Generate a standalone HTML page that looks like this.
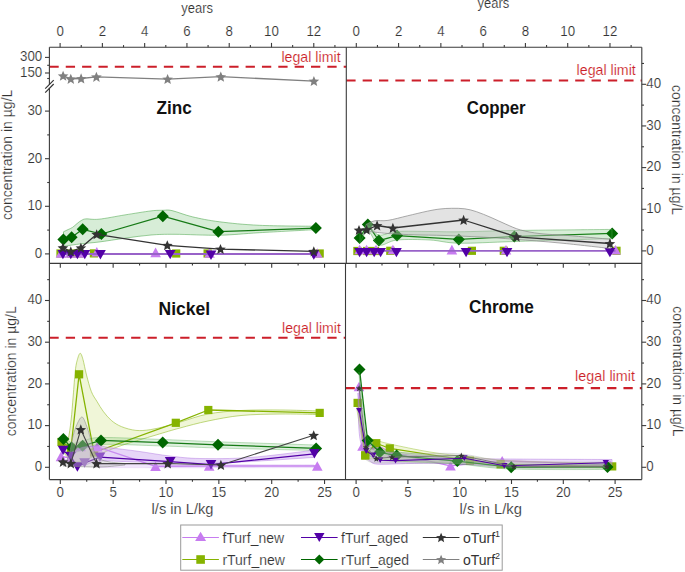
<!DOCTYPE html>
<html><head><meta charset="utf-8"><style>
html,body{margin:0;padding:0;background:#fff;width:685px;height:572px;overflow:hidden;font-family:"Liberation Sans", sans-serif;}
</style></head><body>
<svg width="685" height="572" viewBox="0 0 685 572" style="position:absolute;left:0;top:0;font-family:'Liberation Sans', sans-serif">
<rect width="685" height="572" fill="#ffffff"/>
<rect x="56.40" y="249.40" width="8.20" height="8.20" fill="#86b300" opacity="1"/>
<rect x="66.90" y="249.40" width="8.20" height="8.20" fill="#86b300" opacity="1"/>
<rect x="74.90" y="249.40" width="8.20" height="8.20" fill="#86b300" opacity="1"/>
<rect x="89.80" y="249.30" width="8.20" height="8.20" fill="#86b300" opacity="1"/>
<rect x="172.10" y="249.40" width="8.20" height="8.20" fill="#86b300" opacity="1"/>
<rect x="203.50" y="249.40" width="8.20" height="8.20" fill="#86b300" opacity="1"/>
<rect x="315.60" y="249.40" width="8.20" height="8.20" fill="#86b300" opacity="1"/>
<path d="M63.50,231.80C64.25,231.43 66.50,230.33 68.00,229.60C69.50,228.87 71.00,228.40 72.50,227.40C74.00,226.40 75.53,224.75 77.00,223.60C78.47,222.45 79.80,221.28 81.30,220.50C82.80,219.72 83.05,219.12 86.00,218.90C88.95,218.68 92.50,219.87 99.00,219.20C105.50,218.53 116.33,216.28 125.00,214.90C133.67,213.52 144.67,211.67 151.00,210.90C157.33,210.13 159.50,210.35 163.00,210.30C166.50,210.25 167.12,209.52 172.00,210.60C176.88,211.68 184.37,214.93 192.30,216.80C200.23,218.67 208.43,220.38 219.60,221.80C230.77,223.22 243.23,224.55 259.30,225.30C275.37,226.05 306.55,226.13 316.00,226.30L316.00,229.60C306.55,230.12 275.37,231.77 259.30,232.70C243.23,233.63 233.65,234.93 219.60,235.20C205.55,235.47 186.43,234.33 175.00,234.30C163.57,234.27 159.33,234.35 151.00,235.00C142.67,235.65 133.67,237.03 125.00,238.20C116.33,239.37 106.28,241.07 99.00,242.00C91.72,242.93 87.22,243.08 81.30,243.80C75.38,244.52 66.47,245.88 63.50,246.30Z" fill="#1f9a1f" fill-opacity="0.18" stroke="#4aa54a" stroke-opacity="0.6" stroke-width="0.9"/>
<path d="M63.40,239.40L71.60,237.30L82.70,229.30L101.40,234.00L162.80,216.20L218.30,231.70L315.90,228.10" fill="none" stroke="#167a16" stroke-width="1.2" opacity="1.0" stroke-linejoin="round"/>
<path d="M63.40,233.40L69.40,239.40L63.40,245.40L57.40,239.40Z" fill="#006600" opacity="1"/>
<path d="M71.60,231.30L77.60,237.30L71.60,243.30L65.60,237.30Z" fill="#006600" opacity="1"/>
<path d="M82.70,223.30L88.70,229.30L82.70,235.30L76.70,229.30Z" fill="#006600" opacity="1"/>
<path d="M101.40,228.00L107.40,234.00L101.40,240.00L95.40,234.00Z" fill="#006600" opacity="1"/>
<path d="M162.80,210.20L168.80,216.20L162.80,222.20L156.80,216.20Z" fill="#006600" opacity="1"/>
<path d="M218.30,225.70L224.30,231.70L218.30,237.70L212.30,231.70Z" fill="#006600" opacity="1"/>
<path d="M315.90,222.10L321.90,228.10L315.90,234.10L309.90,228.10Z" fill="#006600" opacity="1"/>
<path d="M61.00,248.20L66.30,257.80L55.70,257.80Z" fill="#c77cf0" opacity="1"/>
<path d="M70.30,248.20L75.60,257.80L65.00,257.80Z" fill="#c77cf0" opacity="1"/>
<path d="M79.70,248.20L85.00,257.80L74.40,257.80Z" fill="#c77cf0" opacity="1"/>
<path d="M96.80,247.00L102.10,256.60L91.50,256.60Z" fill="#c77cf0" opacity="1"/>
<path d="M155.60,247.60L160.90,257.20L150.30,257.20Z" fill="#c77cf0" opacity="1"/>
<path d="M209.50,248.20L214.80,257.80L204.20,257.80Z" fill="#c77cf0" opacity="1"/>
<path d="M317.30,248.20L322.60,257.80L312.00,257.80Z" fill="#c77cf0" opacity="1"/>
<path d="M61.00,254.00L317.30,254.00" fill="none" stroke="#9862c8" stroke-width="1.9" opacity="1.0" stroke-linejoin="round"/>
<path d="M57.50,249.90L68.30,249.90L62.90,259.30Z" fill="#5200a6" opacity="1"/>
<path d="M65.40,249.90L76.20,249.90L70.80,259.30Z" fill="#5200a6" opacity="1"/>
<path d="M72.00,249.90L82.80,249.90L77.40,259.30Z" fill="#5200a6" opacity="1"/>
<path d="M79.40,249.90L90.20,249.90L84.80,259.30Z" fill="#5200a6" opacity="1"/>
<path d="M95.00,250.10L105.80,250.10L100.40,259.50Z" fill="#5200a6" opacity="1"/>
<path d="M164.80,249.90L175.60,249.90L170.20,259.30Z" fill="#5200a6" opacity="1"/>
<path d="M205.60,250.50L216.40,250.50L211.00,259.90Z" fill="#5200a6" opacity="1"/>
<path d="M308.40,250.30L319.20,250.30L313.80,259.70Z" fill="#5200a6" opacity="1"/>
<path d="M62.90,247.70L70.80,251.50L80.90,247.80L96.70,234.30L167.30,245.30L220.50,249.10L313.80,251.40" fill="none" stroke="#333333" stroke-width="1.3" opacity="1.0" stroke-linejoin="round"/>
<path d="M62.90,242.55L64.38,246.11L68.23,246.42L65.30,248.93L66.19,252.68L62.90,250.67L59.61,252.68L60.50,248.93L57.57,246.42L61.42,246.11Z" fill="#333333" opacity="1"/>
<path d="M70.80,246.35L72.28,249.91L76.13,250.22L73.20,252.73L74.09,256.48L70.80,254.47L67.51,256.48L68.40,252.73L65.47,250.22L69.32,249.91Z" fill="#333333" opacity="1"/>
<path d="M80.90,242.65L82.38,246.21L86.23,246.52L83.30,249.03L84.19,252.78L80.90,250.77L77.61,252.78L78.50,249.03L75.57,246.52L79.42,246.21Z" fill="#333333" opacity="1"/>
<path d="M96.70,229.15L98.18,232.71L102.03,233.02L99.10,235.53L99.99,239.28L96.70,237.27L93.41,239.28L94.30,235.53L91.37,233.02L95.22,232.71Z" fill="#333333" opacity="1"/>
<path d="M167.30,240.15L168.78,243.71L172.63,244.02L169.70,246.53L170.59,250.28L167.30,248.27L164.01,250.28L164.90,246.53L161.97,244.02L165.82,243.71Z" fill="#333333" opacity="1"/>
<path d="M220.50,243.95L221.98,247.51L225.83,247.82L222.90,250.33L223.79,254.08L220.50,252.07L217.21,254.08L218.10,250.33L215.17,247.82L219.02,247.51Z" fill="#333333" opacity="1"/>
<path d="M313.80,246.25L315.28,249.81L319.13,250.12L316.20,252.63L317.09,256.38L313.80,254.37L310.51,256.38L311.40,252.63L308.47,250.12L312.32,249.81Z" fill="#333333" opacity="1"/>
<path d="M63.10,75.80L70.80,78.90L81.10,78.50L96.40,76.90L167.60,79.10L220.80,76.70L313.90,81.10" fill="none" stroke="#808080" stroke-width="1.3" opacity="1.0" stroke-linejoin="round"/>
<path d="M63.10,70.65L64.58,74.21L68.43,74.52L65.50,77.03L66.39,80.78L63.10,78.77L59.81,80.78L60.70,77.03L57.77,74.52L61.62,74.21Z" fill="#808080" opacity="1"/>
<path d="M70.80,73.75L72.28,77.31L76.13,77.62L73.20,80.13L74.09,83.88L70.80,81.87L67.51,83.88L68.40,80.13L65.47,77.62L69.32,77.31Z" fill="#808080" opacity="1"/>
<path d="M81.10,73.35L82.58,76.91L86.43,77.22L83.50,79.73L84.39,83.48L81.10,81.47L77.81,83.48L78.70,79.73L75.77,77.22L79.62,76.91Z" fill="#808080" opacity="1"/>
<path d="M96.40,71.75L97.88,75.31L101.73,75.62L98.80,78.13L99.69,81.88L96.40,79.87L93.11,81.88L94.00,78.13L91.07,75.62L94.92,75.31Z" fill="#808080" opacity="1"/>
<path d="M167.60,73.95L169.08,77.51L172.93,77.82L170.00,80.33L170.89,84.08L167.60,82.07L164.31,84.08L165.20,80.33L162.27,77.82L166.12,77.51Z" fill="#808080" opacity="1"/>
<path d="M220.80,71.55L222.28,75.11L226.13,75.42L223.20,77.93L224.09,81.68L220.80,79.67L217.51,81.68L218.40,77.93L215.47,75.42L219.32,75.11Z" fill="#808080" opacity="1"/>
<path d="M313.90,75.95L315.38,79.51L319.23,79.82L316.30,82.33L317.19,86.08L313.90,84.07L310.61,86.08L311.50,82.33L308.57,79.82L312.42,79.51Z" fill="#808080" opacity="1"/>
<rect x="353.30" y="246.90" width="8.20" height="8.20" fill="#86b300" opacity="1"/>
<rect x="362.90" y="246.90" width="8.20" height="8.20" fill="#86b300" opacity="1"/>
<rect x="370.90" y="246.90" width="8.20" height="8.20" fill="#86b300" opacity="1"/>
<rect x="386.20" y="246.70" width="8.20" height="8.20" fill="#86b300" opacity="1"/>
<rect x="467.80" y="246.70" width="8.20" height="8.20" fill="#86b300" opacity="1"/>
<rect x="499.70" y="246.70" width="8.20" height="8.20" fill="#86b300" opacity="1"/>
<rect x="612.40" y="246.70" width="8.20" height="8.20" fill="#86b300" opacity="1"/>
<path d="M359.60,238.00L367.80,224.50L378.90,240.60L397.00,235.60L458.80,239.40L514.40,236.50L612.20,233.40" fill="none" stroke="#167a16" stroke-width="1.2" opacity="1.0" stroke-linejoin="round"/>
<path d="M359.60,232.00L365.60,238.00L359.60,244.00L353.60,238.00Z" fill="#006600" opacity="1"/>
<path d="M367.80,218.50L373.80,224.50L367.80,230.50L361.80,224.50Z" fill="#006600" opacity="1"/>
<path d="M378.90,234.60L384.90,240.60L378.90,246.60L372.90,240.60Z" fill="#006600" opacity="1"/>
<path d="M397.00,229.60L403.00,235.60L397.00,241.60L391.00,235.60Z" fill="#006600" opacity="1"/>
<path d="M458.80,233.40L464.80,239.40L458.80,245.40L452.80,239.40Z" fill="#006600" opacity="1"/>
<path d="M514.40,230.50L520.40,236.50L514.40,242.50L508.40,236.50Z" fill="#006600" opacity="1"/>
<path d="M612.20,227.40L618.20,233.40L612.20,239.40L606.20,233.40Z" fill="#006600" opacity="1"/>
<path d="M360.00,232.00C361.33,231.00 364.83,225.50 368.00,226.00C371.17,226.50 374.17,234.08 379.00,235.00C383.83,235.92 388.50,232.08 397.00,231.50C405.50,230.92 419.67,231.45 430.00,231.50C440.33,231.55 444.83,231.97 459.00,231.80C473.17,231.63 489.50,230.90 515.00,230.50C540.50,230.10 595.83,229.58 612.00,229.40L612.00,238.60C595.83,239.08 540.50,240.73 515.00,241.50C489.50,242.27 473.17,243.45 459.00,243.20C444.83,242.95 440.33,240.53 430.00,240.00C419.67,239.47 405.50,239.17 397.00,240.00C388.50,240.83 383.83,246.50 379.00,245.00C374.17,243.50 371.17,231.33 368.00,231.00C364.83,230.67 361.33,241.00 360.00,243.00Z" fill="#1f9a1f" fill-opacity="0.18" stroke="#4aa54a" stroke-opacity="0.6" stroke-width="0.8"/>
<path d="M359.60,244.70L364.90,254.30L354.30,254.30Z" fill="#c77cf0" opacity="1"/>
<path d="M366.60,244.70L371.90,254.30L361.30,254.30Z" fill="#c77cf0" opacity="1"/>
<path d="M376.00,244.70L381.30,254.30L370.70,254.30Z" fill="#c77cf0" opacity="1"/>
<path d="M392.90,244.70L398.20,254.30L387.60,254.30Z" fill="#c77cf0" opacity="1"/>
<path d="M451.90,244.80L457.20,254.40L446.60,254.40Z" fill="#c77cf0" opacity="1"/>
<path d="M506.00,245.00L511.30,254.60L500.70,254.60Z" fill="#c77cf0" opacity="1"/>
<path d="M615.50,245.00L620.80,254.60L610.20,254.60Z" fill="#c77cf0" opacity="1"/>
<path d="M359.60,250.90L615.50,250.90" fill="none" stroke="#9862c8" stroke-width="1.7" opacity="1.0" stroke-linejoin="round"/>
<path d="M354.20,247.90L365.00,247.90L359.60,257.30Z" fill="#5200a6" opacity="1"/>
<path d="M361.20,247.90L372.00,247.90L366.60,257.30Z" fill="#5200a6" opacity="1"/>
<path d="M368.80,247.90L379.60,247.90L374.20,257.30Z" fill="#5200a6" opacity="1"/>
<path d="M375.20,247.90L386.00,247.90L380.60,257.30Z" fill="#5200a6" opacity="1"/>
<path d="M391.00,247.90L401.80,247.90L396.40,257.30Z" fill="#5200a6" opacity="1"/>
<path d="M460.70,247.90L471.50,247.90L466.10,257.30Z" fill="#5200a6" opacity="1"/>
<path d="M501.60,247.90L512.40,247.90L507.00,257.30Z" fill="#5200a6" opacity="1"/>
<path d="M604.50,247.90L615.30,247.90L609.90,257.30Z" fill="#5200a6" opacity="1"/>
<path d="M366.00,224.50C367.45,223.88 371.05,221.48 374.70,220.80C378.35,220.12 382.42,221.23 387.90,220.40C393.38,219.57 401.03,217.33 407.60,215.80C414.17,214.27 421.90,212.33 427.30,211.20C432.70,210.07 435.93,209.48 440.00,209.00C444.07,208.52 447.57,208.33 451.70,208.30C455.83,208.27 460.67,208.23 464.80,208.80C468.93,209.37 472.12,210.25 476.50,211.70C480.88,213.15 486.23,215.43 491.10,217.50C495.97,219.57 500.83,222.03 505.70,224.10C510.57,226.17 514.58,228.32 520.30,229.90C526.02,231.48 532.08,232.67 540.00,233.60C547.92,234.53 556.05,234.55 567.80,235.50C579.55,236.45 603.38,238.67 610.50,239.30L610.50,248.50C602.08,247.58 575.87,244.53 560.00,243.00C544.13,241.47 528.63,240.30 515.30,239.30C501.97,238.30 491.72,237.63 480.00,237.00C468.28,236.37 455.98,235.87 445.00,235.50C434.02,235.13 422.53,235.07 414.10,234.80C405.67,234.53 399.87,234.22 394.40,233.90C388.93,233.58 386.03,233.38 381.30,232.90C376.57,232.42 368.55,231.32 366.00,231.00Z" fill="#bdbdbd" fill-opacity="0.42" stroke="#8a8a8a" stroke-opacity="0.8" stroke-width="0.9"/>
<path d="M359.00,230.10L366.60,229.80L377.10,225.50L392.90,228.00L463.60,220.00L516.50,236.80L609.90,243.50" fill="none" stroke="#333333" stroke-width="1.3" opacity="1.0" stroke-linejoin="round"/>
<path d="M359.00,224.95L360.48,228.51L364.33,228.82L361.40,231.33L362.29,235.08L359.00,233.07L355.71,235.08L356.60,231.33L353.67,228.82L357.52,228.51Z" fill="#333333" opacity="1"/>
<path d="M366.60,224.65L368.08,228.21L371.93,228.52L369.00,231.03L369.89,234.78L366.60,232.77L363.31,234.78L364.20,231.03L361.27,228.52L365.12,228.21Z" fill="#333333" opacity="1"/>
<path d="M377.10,220.35L378.58,223.91L382.43,224.22L379.50,226.73L380.39,230.48L377.10,228.47L373.81,230.48L374.70,226.73L371.77,224.22L375.62,223.91Z" fill="#333333" opacity="1"/>
<path d="M392.90,222.85L394.38,226.41L398.23,226.72L395.30,229.23L396.19,232.98L392.90,230.97L389.61,232.98L390.50,229.23L387.57,226.72L391.42,226.41Z" fill="#333333" opacity="1"/>
<path d="M463.60,214.85L465.08,218.41L468.93,218.72L466.00,221.23L466.89,224.98L463.60,222.97L460.31,224.98L461.20,221.23L458.27,218.72L462.12,218.41Z" fill="#333333" opacity="1"/>
<path d="M516.50,231.65L517.98,235.21L521.83,235.52L518.90,238.03L519.79,241.78L516.50,239.77L513.21,241.78L514.10,238.03L511.17,235.52L515.02,235.21Z" fill="#333333" opacity="1"/>
<path d="M609.90,238.35L611.38,241.91L615.23,242.22L612.30,244.73L613.19,248.48L609.90,246.47L606.61,248.48L607.50,244.73L604.57,242.22L608.42,241.91Z" fill="#333333" opacity="1"/>
<path d="M63.00,452.00C63.83,450.00 66.65,445.33 68.00,440.00C69.35,434.67 70.23,427.33 71.10,420.00C71.97,412.67 72.50,404.20 73.20,396.00C73.90,387.80 74.60,376.87 75.30,370.80C76.00,364.73 76.58,362.52 77.40,359.60C78.22,356.68 79.27,353.30 80.20,353.30C81.13,353.30 81.95,355.98 83.00,359.60C84.05,363.22 85.10,369.65 86.50,375.00C87.90,380.35 89.65,387.28 91.40,391.70C93.15,396.12 95.03,398.23 97.00,401.50C98.97,404.77 100.80,408.13 103.20,411.30C105.60,414.47 108.33,417.93 111.40,420.50C114.47,423.07 117.52,425.05 121.60,426.70C125.68,428.35 131.13,429.90 135.90,430.40C140.67,430.90 145.10,430.42 150.20,429.70C155.30,428.98 161.20,427.47 166.50,426.10C171.80,424.73 175.08,423.52 182.00,421.50C188.92,419.48 198.17,415.83 208.00,414.00C217.83,412.17 229.00,411.17 241.00,410.50C253.00,409.83 266.88,409.92 280.00,410.00C293.12,410.08 313.08,410.83 319.70,411.00L319.70,414.50C313.08,414.42 293.12,413.83 280.00,414.00C266.88,414.17 253.00,414.33 241.00,415.50C229.00,416.67 218.17,418.92 208.00,421.00C197.83,423.08 188.67,425.67 180.00,428.00C171.33,430.33 166.00,432.00 156.00,435.00C146.00,438.00 130.17,442.50 120.00,446.00C109.83,449.50 102.50,453.33 95.00,456.00C87.50,458.67 80.33,462.67 75.00,462.00C69.67,461.33 65.00,453.67 63.00,452.00Z" fill="#b5d43a" fill-opacity="0.2" stroke="#9cc23a" stroke-opacity="0.8" stroke-width="0.8"/>
<path d="M61.50,442.00L71.00,448.00L79.10,374.30L94.00,452.50L175.80,422.80L208.30,410.00L319.70,412.90" fill="none" stroke="#86b300" stroke-width="1.3" opacity="1.0" stroke-linejoin="round"/>
<rect x="57.40" y="437.90" width="8.20" height="8.20" fill="#86b300" opacity="1"/>
<rect x="66.90" y="443.90" width="8.20" height="8.20" fill="#86b300" opacity="1"/>
<rect x="75.00" y="370.20" width="8.20" height="8.20" fill="#86b300" opacity="1"/>
<rect x="89.90" y="448.40" width="8.20" height="8.20" fill="#86b300" opacity="1"/>
<rect x="171.70" y="418.70" width="8.20" height="8.20" fill="#86b300" opacity="1"/>
<rect x="204.20" y="405.90" width="8.20" height="8.20" fill="#86b300" opacity="1"/>
<rect x="315.60" y="408.80" width="8.20" height="8.20" fill="#86b300" opacity="1"/>
<path d="M61.00,456.40L70.30,458.00L80.50,446.50L97.20,446.80L155.50,466.30L209.20,466.00L317.30,466.00" fill="none" stroke="#c77cf0" stroke-width="1.4" opacity="1.0" stroke-linejoin="round"/>
<path d="M61.00,451.60L66.30,461.20L55.70,461.20Z" fill="#c77cf0" opacity="1"/>
<path d="M70.30,453.20L75.60,462.80L65.00,462.80Z" fill="#c77cf0" opacity="1"/>
<path d="M80.50,441.70L85.80,451.30L75.20,451.30Z" fill="#c77cf0" opacity="1"/>
<path d="M97.20,442.00L102.50,451.60L91.90,451.60Z" fill="#c77cf0" opacity="1"/>
<path d="M155.50,461.50L160.80,471.10L150.20,471.10Z" fill="#c77cf0" opacity="1"/>
<path d="M209.20,461.20L214.50,470.80L203.90,470.80Z" fill="#c77cf0" opacity="1"/>
<path d="M317.30,461.20L322.60,470.80L312.00,470.80Z" fill="#c77cf0" opacity="1"/>
<path d="M63.00,435.00C64.50,436.33 68.67,442.00 72.00,443.00C75.33,444.00 78.17,441.92 83.00,441.00C87.83,440.08 87.72,437.75 101.00,437.50C114.28,437.25 143.20,438.78 162.70,439.50C182.20,440.22 192.45,440.88 218.00,441.80C243.55,442.72 299.67,444.47 316.00,445.00L316.00,450.50C299.67,450.08 243.55,448.75 218.00,448.00C192.45,447.25 182.20,446.58 162.70,446.00C143.20,445.42 114.28,443.83 101.00,444.50C87.72,445.17 87.83,448.75 83.00,450.00C78.17,451.25 75.33,453.00 72.00,452.00C68.67,451.00 64.50,445.33 63.00,444.00Z" fill="#1f9a1f" fill-opacity="0.15" stroke="#4aa54a" stroke-opacity="0.5" stroke-width="0.7"/>
<path d="M63.40,439.10L71.60,447.60L82.60,445.80L101.00,440.40L162.70,442.60L218.00,444.80L316.10,448.40" fill="none" stroke="#167a16" stroke-width="1.3" opacity="1.0" stroke-linejoin="round"/>
<path d="M63.40,433.10L69.40,439.10L63.40,445.10L57.40,439.10Z" fill="#006600" opacity="1"/>
<path d="M71.60,441.60L77.60,447.60L71.60,453.60L65.60,447.60Z" fill="#006600" opacity="1"/>
<path d="M82.60,439.80L88.60,445.80L82.60,451.80L76.60,445.80Z" fill="#006600" opacity="1"/>
<path d="M101.00,434.40L107.00,440.40L101.00,446.40L95.00,440.40Z" fill="#006600" opacity="1"/>
<path d="M162.70,436.60L168.70,442.60L162.70,448.60L156.70,442.60Z" fill="#006600" opacity="1"/>
<path d="M218.00,438.80L224.00,444.80L218.00,450.80L212.00,444.80Z" fill="#006600" opacity="1"/>
<path d="M316.10,442.40L322.10,448.40L316.10,454.40L310.10,448.40Z" fill="#006600" opacity="1"/>
<path d="M72.00,452.00C73.67,451.25 79.00,448.42 82.00,447.50C85.00,446.58 87.07,446.80 90.00,446.50C92.93,446.20 96.38,445.52 99.60,445.70C102.82,445.88 102.87,446.67 109.30,447.60C115.73,448.53 128.03,449.88 138.20,451.30C148.37,452.72 160.00,454.90 170.30,456.10C180.60,457.30 186.72,458.27 200.00,458.50C213.28,458.73 231.00,458.88 250.00,457.50C269.00,456.12 303.33,451.42 314.00,450.20L314.00,457.40C303.33,458.08 269.00,460.50 250.00,461.50C231.00,462.50 218.63,463.30 200.00,463.40C181.37,463.50 154.87,462.50 138.20,462.10C121.53,461.70 108.87,460.52 100.00,461.00C91.13,461.48 89.67,464.17 85.00,465.00C80.33,465.83 74.17,465.83 72.00,466.00Z" fill="#c9a2f0" fill-opacity="0.45" stroke="#a868dc" stroke-opacity="0.5" stroke-width="0.8"/>
<path d="M63.10,450.40L70.50,456.40L77.40,467.00L84.60,463.00L99.90,457.20L170.20,461.60L211.00,464.60L314.40,453.80" fill="none" stroke="#5200a6" stroke-width="1.3" opacity="1.0" stroke-linejoin="round"/>
<path d="M57.70,445.70L68.50,445.70L63.10,455.10Z" fill="#5200a6" opacity="1"/>
<path d="M65.10,451.70L75.90,451.70L70.50,461.10Z" fill="#5200a6" opacity="1"/>
<path d="M72.00,462.30L82.80,462.30L77.40,471.70Z" fill="#5200a6" opacity="1"/>
<path d="M79.20,458.30L90.00,458.30L84.60,467.70Z" fill="#8f55c8" opacity="1"/>
<path d="M94.50,452.50L105.30,452.50L99.90,461.90Z" fill="#8f55c8" opacity="1"/>
<path d="M164.80,456.90L175.60,456.90L170.20,466.30Z" fill="#5200a6" opacity="1"/>
<path d="M205.60,459.90L216.40,459.90L211.00,469.30Z" fill="#5200a6" opacity="1"/>
<path d="M309.00,449.10L319.80,449.10L314.40,458.50Z" fill="#5200a6" opacity="1"/>
<path d="M100.00,464.20C116.67,464.27 164.33,464.50 200.00,464.60C235.67,464.70 295.00,464.77 314.00,464.80L314.00,467.60C295.00,467.63 235.67,467.80 200.00,467.80C164.33,467.80 116.67,467.63 100.00,467.60Z" fill="#c9a2f0" fill-opacity="0.28" stroke="#a868dc" stroke-opacity="0.3" stroke-width="0.5"/>
<path d="M63.00,466.00C63.50,465.33 64.88,464.25 66.00,462.00C67.12,459.75 68.65,456.28 69.70,452.50C70.75,448.72 71.22,443.68 72.30,439.30C73.38,434.92 74.60,429.92 76.20,426.20C77.80,422.48 80.15,417.00 81.90,417.00C83.65,417.00 85.23,422.48 86.70,426.20C88.17,429.92 89.38,434.92 90.70,439.30C92.02,443.68 93.08,449.22 94.60,452.50C96.12,455.78 97.23,457.42 99.80,459.00C102.37,460.58 105.80,461.25 110.00,462.00C114.20,462.75 122.50,463.25 125.00,463.50L125.00,465.00C120.83,465.33 110.33,466.83 100.00,467.00C89.67,467.17 69.17,466.17 63.00,466.00Z" fill="#bdbdbd" fill-opacity="0.42" stroke="#8a8a8a" stroke-opacity="0.7" stroke-width="0.8"/>
<path d="M63.00,461.90L70.80,463.40L80.80,429.50L96.50,463.60L167.70,463.50L220.90,465.00L313.70,435.30" fill="none" stroke="#444" stroke-width="1.1" opacity="1.0" stroke-linejoin="round"/>
<path d="M63.00,456.75L64.48,460.31L68.33,460.62L65.40,463.13L66.29,466.88L63.00,464.87L59.71,466.88L60.60,463.13L57.67,460.62L61.52,460.31Z" fill="#333333" opacity="1"/>
<path d="M70.80,458.25L72.28,461.81L76.13,462.12L73.20,464.63L74.09,468.38L70.80,466.37L67.51,468.38L68.40,464.63L65.47,462.12L69.32,461.81Z" fill="#333333" opacity="1"/>
<path d="M80.80,424.35L82.28,427.91L86.13,428.22L83.20,430.73L84.09,434.48L80.80,432.47L77.51,434.48L78.40,430.73L75.47,428.22L79.32,427.91Z" fill="#333333" opacity="1"/>
<path d="M96.50,458.45L97.98,462.01L101.83,462.32L98.90,464.83L99.79,468.58L96.50,466.57L93.21,468.58L94.10,464.83L91.17,462.32L95.02,462.01Z" fill="#333333" opacity="1"/>
<path d="M167.70,458.35L169.18,461.91L173.03,462.22L170.10,464.73L170.99,468.48L167.70,466.47L164.41,468.48L165.30,464.73L162.37,462.22L166.22,461.91Z" fill="#333333" opacity="1"/>
<path d="M220.90,459.85L222.38,463.41L226.23,463.72L223.30,466.23L224.19,469.98L220.90,467.97L217.61,469.98L218.50,466.23L215.57,463.72L219.42,463.41Z" fill="#333333" opacity="1"/>
<path d="M313.70,430.15L315.18,433.71L319.03,434.02L316.10,436.53L316.99,440.28L313.70,438.27L310.41,440.28L311.30,436.53L308.37,434.02L312.22,433.71Z" fill="#333333" opacity="1"/>
<path d="M359.00,386.50L362.50,446.00L375.50,444.50L392.00,453.00L450.50,465.80L502.20,460.70L610.00,464.90" fill="none" stroke="#c77cf0" stroke-width="1.3" opacity="1.0" stroke-linejoin="round"/>
<path d="M359.00,381.70L364.30,391.30L353.70,391.30Z" fill="#c77cf0" opacity="1"/>
<path d="M362.50,441.20L367.80,450.80L357.20,450.80Z" fill="#c77cf0" opacity="1"/>
<path d="M375.50,439.70L380.80,449.30L370.20,449.30Z" fill="#c77cf0" opacity="1"/>
<path d="M392.00,448.20L397.30,457.80L386.70,457.80Z" fill="#c77cf0" opacity="1"/>
<path d="M450.50,461.00L455.80,470.60L445.20,470.60Z" fill="#c77cf0" opacity="1"/>
<path d="M502.20,455.90L507.50,465.50L496.90,465.50Z" fill="#c77cf0" opacity="1"/>
<path d="M610.00,460.10L615.30,469.70L604.70,469.70Z" fill="#c77cf0" opacity="1"/>
<path d="M357.00,400.00C357.83,403.33 360.50,414.00 362.00,420.00C363.50,426.00 363.67,432.67 366.00,436.00C368.33,439.33 372.00,438.67 376.00,440.00C380.00,441.33 381.00,442.00 390.00,444.00C399.00,446.00 416.67,449.83 430.00,452.00C443.33,454.17 455.00,455.50 470.00,457.00C485.00,458.50 496.33,460.00 520.00,461.00C543.67,462.00 596.67,462.67 612.00,463.00L612.00,468.00C596.67,467.67 543.67,466.83 520.00,466.00C496.33,465.17 485.00,463.67 470.00,463.00C455.00,462.33 443.33,462.33 430.00,462.00C416.67,461.67 399.00,461.50 390.00,461.00C381.00,460.50 380.00,459.67 376.00,459.00C372.00,458.33 368.33,460.17 366.00,457.00C363.67,453.83 363.50,447.83 362.00,440.00C360.50,432.17 357.83,415.00 357.00,410.00Z" fill="#b5d43a" fill-opacity="0.2" stroke="#9cc23a" stroke-opacity="0.7" stroke-width="0.7"/>
<path d="M357.60,402.90L365.30,455.40L376.30,443.20L389.80,448.40L469.90,460.70L500.60,464.30L612.20,466.40" fill="none" stroke="#86b300" stroke-width="1.1" opacity="1.0" stroke-linejoin="round"/>
<rect x="353.50" y="398.80" width="8.20" height="8.20" fill="#86b300" opacity="1"/>
<rect x="361.20" y="451.30" width="8.20" height="8.20" fill="#86b300" opacity="1"/>
<rect x="372.20" y="439.10" width="8.20" height="8.20" fill="#86b300" opacity="1"/>
<rect x="385.70" y="444.30" width="8.20" height="8.20" fill="#86b300" opacity="1"/>
<rect x="465.80" y="456.60" width="8.20" height="8.20" fill="#86b300" opacity="1"/>
<rect x="496.50" y="460.20" width="8.20" height="8.20" fill="#86b300" opacity="1"/>
<rect x="608.10" y="462.30" width="8.20" height="8.20" fill="#86b300" opacity="1"/>
<path d="M358.00,393.00C358.33,395.83 359.17,403.83 360.00,410.00C360.83,416.17 361.83,424.67 363.00,430.00C364.17,435.33 365.17,438.67 367.00,442.00C368.83,445.33 370.17,448.17 374.00,450.00C377.83,451.83 377.33,451.67 390.00,453.00C402.67,454.33 430.83,457.00 450.00,458.00C469.17,459.00 478.00,458.75 505.00,459.00C532.00,459.25 594.17,459.42 612.00,459.50L612.00,465.50C594.17,465.58 532.00,466.33 505.00,466.00C478.00,465.67 465.83,463.92 450.00,463.50C434.17,463.08 422.00,463.38 410.00,463.50C398.00,463.62 384.67,464.62 378.00,464.20C371.33,463.78 372.00,462.20 370.00,461.00C368.00,459.80 367.33,459.17 366.00,457.00C364.67,454.83 363.17,452.50 362.00,448.00C360.83,443.50 359.67,439.17 359.00,430.00C358.33,420.83 358.17,399.17 358.00,393.00Z" fill="#c9a2f0" fill-opacity="0.4" stroke="#a868dc" stroke-opacity="0.55" stroke-width="0.8"/>
<path d="M359.50,369.40L367.60,440.50L379.80,452.30L396.60,455.60L457.30,461.10L511.20,467.30L607.50,467.00" fill="none" stroke="#167a16" stroke-width="1.3" opacity="1.0" stroke-linejoin="round"/>
<path d="M359.50,363.40L365.50,369.40L359.50,375.40L353.50,369.40Z" fill="#006600" opacity="1"/>
<path d="M367.60,434.50L373.60,440.50L367.60,446.50L361.60,440.50Z" fill="#006600" opacity="1"/>
<path d="M379.80,446.30L385.80,452.30L379.80,458.30L373.80,452.30Z" fill="#006600" opacity="1"/>
<path d="M396.60,449.60L402.60,455.60L396.60,461.60L390.60,455.60Z" fill="#006600" opacity="1"/>
<path d="M457.30,455.10L463.30,461.10L457.30,467.10L451.30,461.10Z" fill="#006600" opacity="1"/>
<path d="M511.20,461.30L517.20,467.30L511.20,473.30L505.20,467.30Z" fill="#006600" opacity="1"/>
<path d="M607.50,461.00L613.50,467.00L607.50,473.00L601.50,467.00Z" fill="#006600" opacity="1"/>
<path d="M359.00,372.00C359.67,378.33 361.83,400.00 363.00,410.00C364.17,420.00 365.00,427.00 366.00,432.00C367.00,437.00 366.83,437.17 369.00,440.00C371.17,442.83 374.33,447.00 379.00,449.00C383.67,451.00 384.00,450.50 397.00,452.00C410.00,453.50 438.00,456.00 457.00,458.00C476.00,460.00 486.00,463.00 511.00,464.00C536.00,465.00 591.00,464.00 607.00,464.00L607.00,469.50C591.00,469.42 536.00,469.92 511.00,469.00C486.00,468.08 476.00,465.33 457.00,464.00C438.00,462.67 410.00,462.00 397.00,461.00C384.00,460.00 383.50,458.83 379.00,458.00C374.50,457.17 372.17,457.67 370.00,456.00C367.83,454.33 367.33,454.00 366.00,448.00C364.67,442.00 363.17,432.67 362.00,420.00C360.83,407.33 359.50,380.00 359.00,372.00Z" fill="#1f9a1f" fill-opacity="0.15" stroke="#4aa54a" stroke-opacity="0.5" stroke-width="0.7"/>
<path d="M364.00,446.00C364.67,446.33 366.00,447.33 368.00,448.00C370.00,448.67 372.00,449.33 376.00,450.00C380.00,450.67 384.67,451.42 392.00,452.00C399.33,452.58 408.50,453.17 420.00,453.50C431.50,453.83 445.33,452.58 461.00,454.00C476.67,455.42 489.67,460.67 514.00,462.00C538.33,463.33 591.50,462.00 607.00,462.00L607.00,468.00C591.50,468.00 538.33,468.67 514.00,468.00C489.67,467.33 480.00,464.83 461.00,464.00C442.00,463.17 413.50,463.17 400.00,463.00C386.50,462.83 385.00,463.17 380.00,463.00C375.00,462.83 372.67,462.83 370.00,462.00C367.33,461.17 365.00,458.67 364.00,458.00Z" fill="#bdbdbd" fill-opacity="0.3" stroke="#8a8a8a" stroke-opacity="0.4" stroke-width="0.6"/>
<rect x="361.20" y="451.30" width="8.20" height="8.20" fill="#86b300" opacity="1"/>
<path d="M359.30,410.90L366.20,451.00L373.20,455.40L380.20,460.20L395.50,460.60L464.40,458.20L504.30,465.80L605.80,462.80" fill="none" stroke="#5200a6" stroke-width="1.1" opacity="1.0" stroke-linejoin="round"/>
<path d="M356.10,408.00L362.50,408.00L359.30,413.80Z" fill="#5200a6" opacity="1"/>
<path d="M363.00,448.10L369.40,448.10L366.20,453.90Z" fill="#5200a6" opacity="1"/>
<path d="M370.00,452.50L376.40,452.50L373.20,458.30Z" fill="#5200a6" opacity="1"/>
<path d="M377.00,457.30L383.40,457.30L380.20,463.10Z" fill="#5200a6" opacity="1"/>
<path d="M392.30,457.70L398.70,457.70L395.50,463.50Z" fill="#5200a6" opacity="1"/>
<path d="M461.20,455.30L467.60,455.30L464.40,461.10Z" fill="#5200a6" opacity="1"/>
<path d="M501.10,462.90L507.50,462.90L504.30,468.70Z" fill="#5200a6" opacity="1"/>
<path d="M602.60,459.90L609.00,459.90L605.80,465.70Z" fill="#5200a6" opacity="1"/>
<path d="M359.10,388.10L366.20,447.10L376.30,458.50L392.00,457.10L461.30,455.50L513.90,466.40L606.90,466.40" fill="none" stroke="#707070" stroke-width="0.9" opacity="1.0" stroke-linejoin="round"/>
<path d="M359.10,385.15L360.00,387.31L362.33,387.50L360.56,389.02L361.10,391.30L359.10,390.08L357.10,391.30L357.64,389.02L355.87,387.50L358.20,387.31Z" fill="#333333" opacity="1"/>
<path d="M366.20,444.15L367.10,446.31L369.43,446.50L367.66,448.02L368.20,450.30L366.20,449.08L364.20,450.30L364.74,448.02L362.97,446.50L365.30,446.31Z" fill="#333333" opacity="1"/>
<path d="M376.30,455.55L377.20,457.71L379.53,457.90L377.76,459.42L378.30,461.70L376.30,460.48L374.30,461.70L374.84,459.42L373.07,457.90L375.40,457.71Z" fill="#333333" opacity="1"/>
<path d="M392.00,454.15L392.90,456.31L395.23,456.50L393.46,458.02L394.00,460.30L392.00,459.08L390.00,460.30L390.54,458.02L388.77,456.50L391.10,456.31Z" fill="#333333" opacity="1"/>
<path d="M461.30,452.55L462.20,454.71L464.53,454.90L462.76,456.42L463.30,458.70L461.30,457.48L459.30,458.70L459.84,456.42L458.07,454.90L460.40,454.71Z" fill="#333333" opacity="1"/>
<path d="M513.90,463.45L514.80,465.61L517.13,465.80L515.36,467.32L515.90,469.60L513.90,468.38L511.90,469.60L512.44,467.32L510.67,465.80L513.00,465.61Z" fill="#333333" opacity="1"/>
<path d="M606.90,463.45L607.80,465.61L610.13,465.80L608.36,467.32L608.90,469.60L606.90,468.38L604.90,469.60L605.44,467.32L603.67,465.80L606.00,465.61Z" fill="#333333" opacity="1"/>
<line x1="49.40" y1="66.70" x2="346.30" y2="66.70" stroke="#cc1f2a" stroke-width="2.1" stroke-dasharray="9.3 7.05"/>
<line x1="346.30" y1="80.50" x2="641.80" y2="80.50" stroke="#cc1f2a" stroke-width="2.1" stroke-dasharray="9.3 7.05"/>
<line x1="49.40" y1="337.80" x2="345.50" y2="337.80" stroke="#cc1f2a" stroke-width="2.1" stroke-dasharray="9.3 7.05"/>
<line x1="345.50" y1="388.10" x2="641.80" y2="388.10" stroke="#cc1f2a" stroke-width="2.1" stroke-dasharray="9.3 7.05"/>
<text x="340.60" y="62.00" font-size="14.4" text-anchor="end" fill="#cc1f2a" textLength="59.2" lengthAdjust="spacingAndGlyphs" stroke="#fff" stroke-width="0.15">legal limit</text>
<text x="635.80" y="74.50" font-size="14.4" text-anchor="end" fill="#cc1f2a" textLength="59.2" lengthAdjust="spacingAndGlyphs" stroke="#fff" stroke-width="0.15">legal limit</text>
<text x="340.90" y="332.70" font-size="14.4" text-anchor="end" fill="#cc1f2a" textLength="58.8" lengthAdjust="spacingAndGlyphs" stroke="#fff" stroke-width="0.15">legal limit</text>
<text x="634.90" y="380.50" font-size="14.4" text-anchor="end" fill="#cc1f2a" textLength="59.8" lengthAdjust="spacingAndGlyphs" stroke="#fff" stroke-width="0.15">legal limit</text>
<line x1="49.40" y1="47.30" x2="641.80" y2="47.30" stroke="#3a3a3a" stroke-width="1.1"/>
<line x1="49.40" y1="479.60" x2="641.80" y2="479.60" stroke="#3a3a3a" stroke-width="1.1"/>
<line x1="49.40" y1="263.40" x2="641.80" y2="263.40" stroke="#3a3a3a" stroke-width="1.1"/>
<line x1="49.40" y1="47.30" x2="49.40" y2="479.60" stroke="#3a3a3a" stroke-width="1.1"/>
<line x1="641.80" y1="47.30" x2="641.80" y2="479.60" stroke="#3a3a3a" stroke-width="1.1"/>
<line x1="346.30" y1="47.30" x2="346.30" y2="263.40" stroke="#3a3a3a" stroke-width="1.1"/>
<line x1="345.50" y1="263.40" x2="345.50" y2="479.60" stroke="#3a3a3a" stroke-width="1.1"/>
<line x1="60.10" y1="47.30" x2="60.10" y2="42.90" stroke="#3a3a3a" stroke-width="1.1"/>
<text x="60.10" y="36.30" font-size="14" text-anchor="middle" fill="#333" textLength="7.4" lengthAdjust="spacingAndGlyphs" stroke="#fff" stroke-width="0.15">0</text>
<line x1="81.24" y1="47.30" x2="81.24" y2="45.10" stroke="#3a3a3a" stroke-width="1.1"/>
<line x1="102.38" y1="47.30" x2="102.38" y2="42.90" stroke="#3a3a3a" stroke-width="1.1"/>
<text x="102.38" y="36.30" font-size="14" text-anchor="middle" fill="#333" textLength="7.4" lengthAdjust="spacingAndGlyphs" stroke="#fff" stroke-width="0.15">2</text>
<line x1="123.52" y1="47.30" x2="123.52" y2="45.10" stroke="#3a3a3a" stroke-width="1.1"/>
<line x1="144.66" y1="47.30" x2="144.66" y2="42.90" stroke="#3a3a3a" stroke-width="1.1"/>
<text x="144.66" y="36.30" font-size="14" text-anchor="middle" fill="#333" textLength="7.4" lengthAdjust="spacingAndGlyphs" stroke="#fff" stroke-width="0.15">4</text>
<line x1="165.80" y1="47.30" x2="165.80" y2="45.10" stroke="#3a3a3a" stroke-width="1.1"/>
<line x1="186.94" y1="47.30" x2="186.94" y2="42.90" stroke="#3a3a3a" stroke-width="1.1"/>
<text x="186.94" y="36.30" font-size="14" text-anchor="middle" fill="#333" textLength="7.4" lengthAdjust="spacingAndGlyphs" stroke="#fff" stroke-width="0.15">6</text>
<line x1="208.08" y1="47.30" x2="208.08" y2="45.10" stroke="#3a3a3a" stroke-width="1.1"/>
<line x1="229.22" y1="47.30" x2="229.22" y2="42.90" stroke="#3a3a3a" stroke-width="1.1"/>
<text x="229.22" y="36.30" font-size="14" text-anchor="middle" fill="#333" textLength="7.4" lengthAdjust="spacingAndGlyphs" stroke="#fff" stroke-width="0.15">8</text>
<line x1="250.36" y1="47.30" x2="250.36" y2="45.10" stroke="#3a3a3a" stroke-width="1.1"/>
<line x1="271.50" y1="47.30" x2="271.50" y2="42.90" stroke="#3a3a3a" stroke-width="1.1"/>
<text x="271.50" y="36.30" font-size="14" text-anchor="middle" fill="#333" textLength="14.8" lengthAdjust="spacingAndGlyphs" stroke="#fff" stroke-width="0.15">10</text>
<line x1="292.64" y1="47.30" x2="292.64" y2="45.10" stroke="#3a3a3a" stroke-width="1.1"/>
<line x1="313.78" y1="47.30" x2="313.78" y2="42.90" stroke="#3a3a3a" stroke-width="1.1"/>
<text x="313.78" y="36.30" font-size="14" text-anchor="middle" fill="#333" textLength="14.8" lengthAdjust="spacingAndGlyphs" stroke="#fff" stroke-width="0.15">12</text>
<line x1="334.92" y1="47.30" x2="334.92" y2="45.10" stroke="#3a3a3a" stroke-width="1.1"/>
<line x1="356.30" y1="47.30" x2="356.30" y2="42.90" stroke="#3a3a3a" stroke-width="1.1"/>
<text x="356.30" y="36.30" font-size="14" text-anchor="middle" fill="#333" textLength="7.4" lengthAdjust="spacingAndGlyphs" stroke="#fff" stroke-width="0.15">0</text>
<line x1="377.44" y1="47.30" x2="377.44" y2="45.10" stroke="#3a3a3a" stroke-width="1.1"/>
<line x1="398.58" y1="47.30" x2="398.58" y2="42.90" stroke="#3a3a3a" stroke-width="1.1"/>
<text x="398.58" y="36.30" font-size="14" text-anchor="middle" fill="#333" textLength="7.4" lengthAdjust="spacingAndGlyphs" stroke="#fff" stroke-width="0.15">2</text>
<line x1="419.72" y1="47.30" x2="419.72" y2="45.10" stroke="#3a3a3a" stroke-width="1.1"/>
<line x1="440.86" y1="47.30" x2="440.86" y2="42.90" stroke="#3a3a3a" stroke-width="1.1"/>
<text x="440.86" y="36.30" font-size="14" text-anchor="middle" fill="#333" textLength="7.4" lengthAdjust="spacingAndGlyphs" stroke="#fff" stroke-width="0.15">4</text>
<line x1="462.00" y1="47.30" x2="462.00" y2="45.10" stroke="#3a3a3a" stroke-width="1.1"/>
<line x1="483.14" y1="47.30" x2="483.14" y2="42.90" stroke="#3a3a3a" stroke-width="1.1"/>
<text x="483.14" y="36.30" font-size="14" text-anchor="middle" fill="#333" textLength="7.4" lengthAdjust="spacingAndGlyphs" stroke="#fff" stroke-width="0.15">6</text>
<line x1="504.28" y1="47.30" x2="504.28" y2="45.10" stroke="#3a3a3a" stroke-width="1.1"/>
<line x1="525.42" y1="47.30" x2="525.42" y2="42.90" stroke="#3a3a3a" stroke-width="1.1"/>
<text x="525.42" y="36.30" font-size="14" text-anchor="middle" fill="#333" textLength="7.4" lengthAdjust="spacingAndGlyphs" stroke="#fff" stroke-width="0.15">8</text>
<line x1="546.56" y1="47.30" x2="546.56" y2="45.10" stroke="#3a3a3a" stroke-width="1.1"/>
<line x1="567.70" y1="47.30" x2="567.70" y2="42.90" stroke="#3a3a3a" stroke-width="1.1"/>
<text x="567.70" y="36.30" font-size="14" text-anchor="middle" fill="#333" textLength="14.8" lengthAdjust="spacingAndGlyphs" stroke="#fff" stroke-width="0.15">10</text>
<line x1="588.84" y1="47.30" x2="588.84" y2="45.10" stroke="#3a3a3a" stroke-width="1.1"/>
<line x1="609.98" y1="47.30" x2="609.98" y2="42.90" stroke="#3a3a3a" stroke-width="1.1"/>
<text x="609.98" y="36.30" font-size="14" text-anchor="middle" fill="#333" textLength="14.8" lengthAdjust="spacingAndGlyphs" stroke="#fff" stroke-width="0.15">12</text>
<line x1="631.12" y1="47.30" x2="631.12" y2="45.10" stroke="#3a3a3a" stroke-width="1.1"/>
<text x="197.20" y="13.30" font-size="14" text-anchor="middle" fill="#333" textLength="31.7" lengthAdjust="spacingAndGlyphs" stroke="#fff" stroke-width="0.15">years</text>
<text x="493.40" y="8.00" font-size="14" text-anchor="middle" fill="#333" textLength="31.7" lengthAdjust="spacingAndGlyphs" stroke="#fff" stroke-width="0.15">years</text>
<line x1="60.30" y1="263.40" x2="60.30" y2="267.80" stroke="#3a3a3a" stroke-width="1.1"/>
<line x1="60.30" y1="479.60" x2="60.30" y2="484.00" stroke="#3a3a3a" stroke-width="1.1"/>
<text x="60.30" y="497.00" font-size="14" text-anchor="middle" fill="#333" textLength="7.4" lengthAdjust="spacingAndGlyphs" stroke="#fff" stroke-width="0.15">0</text>
<line x1="86.72" y1="263.40" x2="86.72" y2="265.60" stroke="#3a3a3a" stroke-width="1.1"/>
<line x1="86.72" y1="479.60" x2="86.72" y2="481.80" stroke="#3a3a3a" stroke-width="1.1"/>
<line x1="113.15" y1="263.40" x2="113.15" y2="267.80" stroke="#3a3a3a" stroke-width="1.1"/>
<line x1="113.15" y1="479.60" x2="113.15" y2="484.00" stroke="#3a3a3a" stroke-width="1.1"/>
<text x="113.15" y="497.00" font-size="14" text-anchor="middle" fill="#333" textLength="7.4" lengthAdjust="spacingAndGlyphs" stroke="#fff" stroke-width="0.15">5</text>
<line x1="139.57" y1="263.40" x2="139.57" y2="265.60" stroke="#3a3a3a" stroke-width="1.1"/>
<line x1="139.57" y1="479.60" x2="139.57" y2="481.80" stroke="#3a3a3a" stroke-width="1.1"/>
<line x1="166.00" y1="263.40" x2="166.00" y2="267.80" stroke="#3a3a3a" stroke-width="1.1"/>
<line x1="166.00" y1="479.60" x2="166.00" y2="484.00" stroke="#3a3a3a" stroke-width="1.1"/>
<text x="166.00" y="497.00" font-size="14" text-anchor="middle" fill="#333" textLength="14.8" lengthAdjust="spacingAndGlyphs" stroke="#fff" stroke-width="0.15">10</text>
<line x1="192.43" y1="263.40" x2="192.43" y2="265.60" stroke="#3a3a3a" stroke-width="1.1"/>
<line x1="192.43" y1="479.60" x2="192.43" y2="481.80" stroke="#3a3a3a" stroke-width="1.1"/>
<line x1="218.85" y1="263.40" x2="218.85" y2="267.80" stroke="#3a3a3a" stroke-width="1.1"/>
<line x1="218.85" y1="479.60" x2="218.85" y2="484.00" stroke="#3a3a3a" stroke-width="1.1"/>
<text x="218.85" y="497.00" font-size="14" text-anchor="middle" fill="#333" textLength="14.8" lengthAdjust="spacingAndGlyphs" stroke="#fff" stroke-width="0.15">15</text>
<line x1="245.27" y1="263.40" x2="245.27" y2="265.60" stroke="#3a3a3a" stroke-width="1.1"/>
<line x1="245.27" y1="479.60" x2="245.27" y2="481.80" stroke="#3a3a3a" stroke-width="1.1"/>
<line x1="271.70" y1="263.40" x2="271.70" y2="267.80" stroke="#3a3a3a" stroke-width="1.1"/>
<line x1="271.70" y1="479.60" x2="271.70" y2="484.00" stroke="#3a3a3a" stroke-width="1.1"/>
<text x="271.70" y="497.00" font-size="14" text-anchor="middle" fill="#333" textLength="14.8" lengthAdjust="spacingAndGlyphs" stroke="#fff" stroke-width="0.15">20</text>
<line x1="298.12" y1="263.40" x2="298.12" y2="265.60" stroke="#3a3a3a" stroke-width="1.1"/>
<line x1="298.12" y1="479.60" x2="298.12" y2="481.80" stroke="#3a3a3a" stroke-width="1.1"/>
<line x1="324.55" y1="263.40" x2="324.55" y2="267.80" stroke="#3a3a3a" stroke-width="1.1"/>
<line x1="324.55" y1="479.60" x2="324.55" y2="484.00" stroke="#3a3a3a" stroke-width="1.1"/>
<text x="324.55" y="497.00" font-size="14" text-anchor="middle" fill="#333" textLength="14.8" lengthAdjust="spacingAndGlyphs" stroke="#fff" stroke-width="0.15">25</text>
<line x1="356.10" y1="263.40" x2="356.10" y2="267.80" stroke="#3a3a3a" stroke-width="1.1"/>
<line x1="356.10" y1="479.60" x2="356.10" y2="484.00" stroke="#3a3a3a" stroke-width="1.1"/>
<text x="356.10" y="497.00" font-size="14" text-anchor="middle" fill="#333" textLength="7.4" lengthAdjust="spacingAndGlyphs" stroke="#fff" stroke-width="0.15">0</text>
<line x1="382.00" y1="263.40" x2="382.00" y2="265.60" stroke="#3a3a3a" stroke-width="1.1"/>
<line x1="382.00" y1="479.60" x2="382.00" y2="481.80" stroke="#3a3a3a" stroke-width="1.1"/>
<line x1="407.90" y1="263.40" x2="407.90" y2="267.80" stroke="#3a3a3a" stroke-width="1.1"/>
<line x1="407.90" y1="479.60" x2="407.90" y2="484.00" stroke="#3a3a3a" stroke-width="1.1"/>
<text x="407.90" y="497.00" font-size="14" text-anchor="middle" fill="#333" textLength="7.4" lengthAdjust="spacingAndGlyphs" stroke="#fff" stroke-width="0.15">5</text>
<line x1="433.80" y1="263.40" x2="433.80" y2="265.60" stroke="#3a3a3a" stroke-width="1.1"/>
<line x1="433.80" y1="479.60" x2="433.80" y2="481.80" stroke="#3a3a3a" stroke-width="1.1"/>
<line x1="459.70" y1="263.40" x2="459.70" y2="267.80" stroke="#3a3a3a" stroke-width="1.1"/>
<line x1="459.70" y1="479.60" x2="459.70" y2="484.00" stroke="#3a3a3a" stroke-width="1.1"/>
<text x="459.70" y="497.00" font-size="14" text-anchor="middle" fill="#333" textLength="14.8" lengthAdjust="spacingAndGlyphs" stroke="#fff" stroke-width="0.15">10</text>
<line x1="485.60" y1="263.40" x2="485.60" y2="265.60" stroke="#3a3a3a" stroke-width="1.1"/>
<line x1="485.60" y1="479.60" x2="485.60" y2="481.80" stroke="#3a3a3a" stroke-width="1.1"/>
<line x1="511.50" y1="263.40" x2="511.50" y2="267.80" stroke="#3a3a3a" stroke-width="1.1"/>
<line x1="511.50" y1="479.60" x2="511.50" y2="484.00" stroke="#3a3a3a" stroke-width="1.1"/>
<text x="511.50" y="497.00" font-size="14" text-anchor="middle" fill="#333" textLength="14.8" lengthAdjust="spacingAndGlyphs" stroke="#fff" stroke-width="0.15">15</text>
<line x1="537.40" y1="263.40" x2="537.40" y2="265.60" stroke="#3a3a3a" stroke-width="1.1"/>
<line x1="537.40" y1="479.60" x2="537.40" y2="481.80" stroke="#3a3a3a" stroke-width="1.1"/>
<line x1="563.30" y1="263.40" x2="563.30" y2="267.80" stroke="#3a3a3a" stroke-width="1.1"/>
<line x1="563.30" y1="479.60" x2="563.30" y2="484.00" stroke="#3a3a3a" stroke-width="1.1"/>
<text x="563.30" y="497.00" font-size="14" text-anchor="middle" fill="#333" textLength="14.8" lengthAdjust="spacingAndGlyphs" stroke="#fff" stroke-width="0.15">20</text>
<line x1="589.20" y1="263.40" x2="589.20" y2="265.60" stroke="#3a3a3a" stroke-width="1.1"/>
<line x1="589.20" y1="479.60" x2="589.20" y2="481.80" stroke="#3a3a3a" stroke-width="1.1"/>
<line x1="615.10" y1="263.40" x2="615.10" y2="267.80" stroke="#3a3a3a" stroke-width="1.1"/>
<line x1="615.10" y1="479.60" x2="615.10" y2="484.00" stroke="#3a3a3a" stroke-width="1.1"/>
<text x="615.10" y="497.00" font-size="14" text-anchor="middle" fill="#333" textLength="14.8" lengthAdjust="spacingAndGlyphs" stroke="#fff" stroke-width="0.15">25</text>
<text x="182.50" y="513.80" font-size="13.8" text-anchor="middle" fill="#333" textLength="61.8" lengthAdjust="spacingAndGlyphs" stroke="#fff" stroke-width="0.15">l/s in L/kg</text>
<text x="490.70" y="513.80" font-size="13.8" text-anchor="middle" fill="#333" textLength="62.4" lengthAdjust="spacingAndGlyphs" stroke="#fff" stroke-width="0.15">l/s in L/kg</text>
<line x1="49.40" y1="253.90" x2="45.00" y2="253.90" stroke="#3a3a3a" stroke-width="1.1"/>
<text x="42.20" y="257.70" font-size="14" text-anchor="end" fill="#333" textLength="7.4" lengthAdjust="spacingAndGlyphs" stroke="#fff" stroke-width="0.15">0</text>
<line x1="49.40" y1="230.10" x2="47.20" y2="230.10" stroke="#3a3a3a" stroke-width="1.1"/>
<line x1="49.40" y1="206.30" x2="45.00" y2="206.30" stroke="#3a3a3a" stroke-width="1.1"/>
<text x="42.20" y="210.10" font-size="14" text-anchor="end" fill="#333" textLength="14.8" lengthAdjust="spacingAndGlyphs" stroke="#fff" stroke-width="0.15">10</text>
<line x1="49.40" y1="182.50" x2="47.20" y2="182.50" stroke="#3a3a3a" stroke-width="1.1"/>
<line x1="49.40" y1="158.70" x2="45.00" y2="158.70" stroke="#3a3a3a" stroke-width="1.1"/>
<text x="42.20" y="162.50" font-size="14" text-anchor="end" fill="#333" textLength="14.8" lengthAdjust="spacingAndGlyphs" stroke="#fff" stroke-width="0.15">20</text>
<line x1="49.40" y1="134.90" x2="47.20" y2="134.90" stroke="#3a3a3a" stroke-width="1.1"/>
<line x1="49.40" y1="111.10" x2="45.00" y2="111.10" stroke="#3a3a3a" stroke-width="1.1"/>
<text x="42.20" y="114.90" font-size="14" text-anchor="end" fill="#333" textLength="14.8" lengthAdjust="spacingAndGlyphs" stroke="#fff" stroke-width="0.15">30</text>
<line x1="49.40" y1="57.40" x2="45.00" y2="57.40" stroke="#3a3a3a" stroke-width="1.1"/>
<text x="42.20" y="61.20" font-size="14" text-anchor="end" fill="#333" textLength="22.2" lengthAdjust="spacingAndGlyphs" stroke="#fff" stroke-width="0.15">300</text>
<line x1="49.40" y1="65.30" x2="47.20" y2="65.30" stroke="#3a3a3a" stroke-width="1.1"/>
<line x1="49.40" y1="73.00" x2="45.00" y2="73.00" stroke="#3a3a3a" stroke-width="1.1"/>
<text x="42.20" y="76.80" font-size="14" text-anchor="end" fill="#333" textLength="22.2" lengthAdjust="spacingAndGlyphs" stroke="#fff" stroke-width="0.15">150</text>
<line x1="49.40" y1="78.50" x2="47.20" y2="78.50" stroke="#3a3a3a" stroke-width="1.1"/>
<rect x="48.4" y="84.6" width="2" height="3.7" fill="#fff"/>
<line x1="45.20" y1="88.70" x2="53.70" y2="80.20" stroke="#333" stroke-width="1.15"/>
<line x1="45.20" y1="92.70" x2="53.70" y2="84.00" stroke="#333" stroke-width="1.15"/>
<line x1="49.40" y1="467.30" x2="45.00" y2="467.30" stroke="#3a3a3a" stroke-width="1.1"/>
<text x="42.20" y="471.10" font-size="14" text-anchor="end" fill="#333" textLength="7.4" lengthAdjust="spacingAndGlyphs" stroke="#fff" stroke-width="0.15">0</text>
<line x1="49.40" y1="446.45" x2="47.20" y2="446.45" stroke="#3a3a3a" stroke-width="1.1"/>
<line x1="49.40" y1="425.60" x2="45.00" y2="425.60" stroke="#3a3a3a" stroke-width="1.1"/>
<text x="42.20" y="429.40" font-size="14" text-anchor="end" fill="#333" textLength="14.8" lengthAdjust="spacingAndGlyphs" stroke="#fff" stroke-width="0.15">10</text>
<line x1="49.40" y1="404.75" x2="47.20" y2="404.75" stroke="#3a3a3a" stroke-width="1.1"/>
<line x1="49.40" y1="383.90" x2="45.00" y2="383.90" stroke="#3a3a3a" stroke-width="1.1"/>
<text x="42.20" y="387.70" font-size="14" text-anchor="end" fill="#333" textLength="14.8" lengthAdjust="spacingAndGlyphs" stroke="#fff" stroke-width="0.15">20</text>
<line x1="49.40" y1="363.05" x2="47.20" y2="363.05" stroke="#3a3a3a" stroke-width="1.1"/>
<line x1="49.40" y1="342.20" x2="45.00" y2="342.20" stroke="#3a3a3a" stroke-width="1.1"/>
<text x="42.20" y="346.00" font-size="14" text-anchor="end" fill="#333" textLength="14.8" lengthAdjust="spacingAndGlyphs" stroke="#fff" stroke-width="0.15">30</text>
<line x1="49.40" y1="321.35" x2="47.20" y2="321.35" stroke="#3a3a3a" stroke-width="1.1"/>
<line x1="49.40" y1="300.50" x2="45.00" y2="300.50" stroke="#3a3a3a" stroke-width="1.1"/>
<text x="42.20" y="304.30" font-size="14" text-anchor="end" fill="#333" textLength="14.8" lengthAdjust="spacingAndGlyphs" stroke="#fff" stroke-width="0.15">40</text>
<line x1="49.40" y1="279.65" x2="47.20" y2="279.65" stroke="#3a3a3a" stroke-width="1.1"/>
<line x1="641.80" y1="250.90" x2="646.20" y2="250.90" stroke="#3a3a3a" stroke-width="1.1"/>
<text x="646.30" y="254.70" font-size="14" text-anchor="start" fill="#333" textLength="7.4" lengthAdjust="spacingAndGlyphs" stroke="#fff" stroke-width="0.15">0</text>
<line x1="641.80" y1="230.08" x2="644.00" y2="230.08" stroke="#3a3a3a" stroke-width="1.1"/>
<line x1="641.80" y1="209.25" x2="646.20" y2="209.25" stroke="#3a3a3a" stroke-width="1.1"/>
<text x="646.30" y="213.05" font-size="14" text-anchor="start" fill="#333" textLength="14.8" lengthAdjust="spacingAndGlyphs" stroke="#fff" stroke-width="0.15">10</text>
<line x1="641.80" y1="188.43" x2="644.00" y2="188.43" stroke="#3a3a3a" stroke-width="1.1"/>
<line x1="641.80" y1="167.60" x2="646.20" y2="167.60" stroke="#3a3a3a" stroke-width="1.1"/>
<text x="646.30" y="171.40" font-size="14" text-anchor="start" fill="#333" textLength="14.8" lengthAdjust="spacingAndGlyphs" stroke="#fff" stroke-width="0.15">20</text>
<line x1="641.80" y1="146.78" x2="644.00" y2="146.78" stroke="#3a3a3a" stroke-width="1.1"/>
<line x1="641.80" y1="125.95" x2="646.20" y2="125.95" stroke="#3a3a3a" stroke-width="1.1"/>
<text x="646.30" y="129.75" font-size="14" text-anchor="start" fill="#333" textLength="14.8" lengthAdjust="spacingAndGlyphs" stroke="#fff" stroke-width="0.15">30</text>
<line x1="641.80" y1="105.12" x2="644.00" y2="105.12" stroke="#3a3a3a" stroke-width="1.1"/>
<line x1="641.80" y1="84.30" x2="646.20" y2="84.30" stroke="#3a3a3a" stroke-width="1.1"/>
<text x="646.30" y="88.10" font-size="14" text-anchor="start" fill="#333" textLength="14.8" lengthAdjust="spacingAndGlyphs" stroke="#fff" stroke-width="0.15">40</text>
<line x1="641.80" y1="63.47" x2="644.00" y2="63.47" stroke="#3a3a3a" stroke-width="1.1"/>
<line x1="641.80" y1="467.30" x2="646.20" y2="467.30" stroke="#3a3a3a" stroke-width="1.1"/>
<text x="646.30" y="471.10" font-size="14" text-anchor="start" fill="#333" textLength="7.4" lengthAdjust="spacingAndGlyphs" stroke="#fff" stroke-width="0.15">0</text>
<line x1="641.80" y1="446.45" x2="644.00" y2="446.45" stroke="#3a3a3a" stroke-width="1.1"/>
<line x1="641.80" y1="425.60" x2="646.20" y2="425.60" stroke="#3a3a3a" stroke-width="1.1"/>
<text x="646.30" y="429.40" font-size="14" text-anchor="start" fill="#333" textLength="14.8" lengthAdjust="spacingAndGlyphs" stroke="#fff" stroke-width="0.15">10</text>
<line x1="641.80" y1="404.75" x2="644.00" y2="404.75" stroke="#3a3a3a" stroke-width="1.1"/>
<line x1="641.80" y1="383.90" x2="646.20" y2="383.90" stroke="#3a3a3a" stroke-width="1.1"/>
<text x="646.30" y="387.70" font-size="14" text-anchor="start" fill="#333" textLength="14.8" lengthAdjust="spacingAndGlyphs" stroke="#fff" stroke-width="0.15">20</text>
<line x1="641.80" y1="363.05" x2="644.00" y2="363.05" stroke="#3a3a3a" stroke-width="1.1"/>
<line x1="641.80" y1="342.20" x2="646.20" y2="342.20" stroke="#3a3a3a" stroke-width="1.1"/>
<text x="646.30" y="346.00" font-size="14" text-anchor="start" fill="#333" textLength="14.8" lengthAdjust="spacingAndGlyphs" stroke="#fff" stroke-width="0.15">30</text>
<line x1="641.80" y1="321.35" x2="644.00" y2="321.35" stroke="#3a3a3a" stroke-width="1.1"/>
<line x1="641.80" y1="300.50" x2="646.20" y2="300.50" stroke="#3a3a3a" stroke-width="1.1"/>
<text x="646.30" y="304.30" font-size="14" text-anchor="start" fill="#333" textLength="14.8" lengthAdjust="spacingAndGlyphs" stroke="#fff" stroke-width="0.15">40</text>
<line x1="641.80" y1="279.65" x2="644.00" y2="279.65" stroke="#3a3a3a" stroke-width="1.1"/>
<text x="11.90" y="154.80" font-size="14" text-anchor="middle" fill="#333" textLength="130.2" lengthAdjust="spacingAndGlyphs" transform="rotate(-90 11.90 154.80)" stroke="#fff" stroke-width="0.15">concentration in µg/L</text>
<text x="16.00" y="371.25" font-size="14" text-anchor="middle" fill="#333" textLength="130.0" lengthAdjust="spacingAndGlyphs" transform="rotate(-90 16.00 371.25)" stroke="#fff" stroke-width="0.15">concentration in µg/L</text>
<text x="672.10" y="150.00" font-size="14" text-anchor="middle" fill="#333" textLength="130.2" lengthAdjust="spacingAndGlyphs" transform="rotate(90 672.10 150.00)" stroke="#fff" stroke-width="0.15">concentration in µg/L</text>
<text x="673.20" y="371.40" font-size="14" text-anchor="middle" fill="#333" textLength="130.2" lengthAdjust="spacingAndGlyphs" transform="rotate(90 673.20 371.40)" stroke="#fff" stroke-width="0.15">concentration in µg/L</text>
<text x="156.50" y="114.10" font-size="19" text-anchor="start" fill="#111" font-weight="bold" textLength="35.3" lengthAdjust="spacingAndGlyphs">Zinc</text>
<text x="466.80" y="114.10" font-size="19" text-anchor="start" fill="#111" font-weight="bold" textLength="58.8" lengthAdjust="spacingAndGlyphs">Copper</text>
<text x="158.50" y="315.10" font-size="19" text-anchor="start" fill="#111" font-weight="bold" textLength="51.6" lengthAdjust="spacingAndGlyphs">Nickel</text>
<text x="469.00" y="313.40" font-size="19" text-anchor="start" fill="#111" font-weight="bold" textLength="64.9" lengthAdjust="spacingAndGlyphs">Chrome</text>
<rect x="180.7" y="525.0" width="321.5" height="45.2" fill="#fff" stroke="#9a9a9a" stroke-width="1"/>
<line x1="182.30" y1="537.50" x2="218.90" y2="537.50" stroke="#c77cf0" stroke-width="1.1"/>
<path d="M200.60,531.70L206.10,540.90L195.10,540.90Z" fill="#c77cf0" opacity="1"/>
<text x="222.40" y="542.60" font-size="14" text-anchor="start" fill="#333" stroke="#fff" stroke-width="0.15">fTurf_new</text>
<line x1="301.00" y1="537.50" x2="337.60" y2="537.50" stroke="#5200a6" stroke-width="1.1"/>
<path d="M314.10,533.00L324.50,533.00L319.30,542.00Z" fill="#5200a6" opacity="1"/>
<text x="341.10" y="542.60" font-size="14" text-anchor="start" fill="#333" stroke="#fff" stroke-width="0.15">fTurf_aged</text>
<line x1="422.80" y1="537.50" x2="459.40" y2="537.50" stroke="#333333" stroke-width="1.1"/>
<path d="M441.10,532.75L442.48,536.06L446.05,536.34L443.33,538.67L444.16,542.16L441.10,540.29L438.04,542.16L438.87,538.67L436.15,536.34L439.72,536.06Z" fill="#333333" opacity="1"/>
<text x="462.90" y="542.60" font-size="14" fill="#333">oTurf<tspan font-size="9" dy="-6">1</tspan></text>
<line x1="182.30" y1="559.50" x2="218.90" y2="559.50" stroke="#86b300" stroke-width="1.1"/>
<rect x="196.30" y="555.20" width="8.60" height="8.60" fill="#86b300" opacity="1"/>
<text x="222.40" y="564.60" font-size="14" text-anchor="start" fill="#333" stroke="#fff" stroke-width="0.15">rTurf_new</text>
<line x1="301.00" y1="559.50" x2="337.60" y2="559.50" stroke="#006600" stroke-width="1.1"/>
<path d="M319.30,554.50L324.30,559.50L319.30,564.50L314.30,559.50Z" fill="#006600" opacity="1"/>
<text x="341.10" y="564.60" font-size="14" text-anchor="start" fill="#333" stroke="#fff" stroke-width="0.15">rTurf_aged</text>
<line x1="422.80" y1="559.50" x2="459.40" y2="559.50" stroke="#808080" stroke-width="1.1"/>
<path d="M441.10,554.75L442.48,558.06L446.05,558.34L443.33,560.67L444.16,564.16L441.10,562.29L438.04,564.16L438.87,560.67L436.15,558.34L439.72,558.06Z" fill="#808080" opacity="1"/>
<text x="462.90" y="564.60" font-size="14" fill="#333">oTurf<tspan font-size="9" dy="-6">2</tspan></text>
</svg>
</body></html>
